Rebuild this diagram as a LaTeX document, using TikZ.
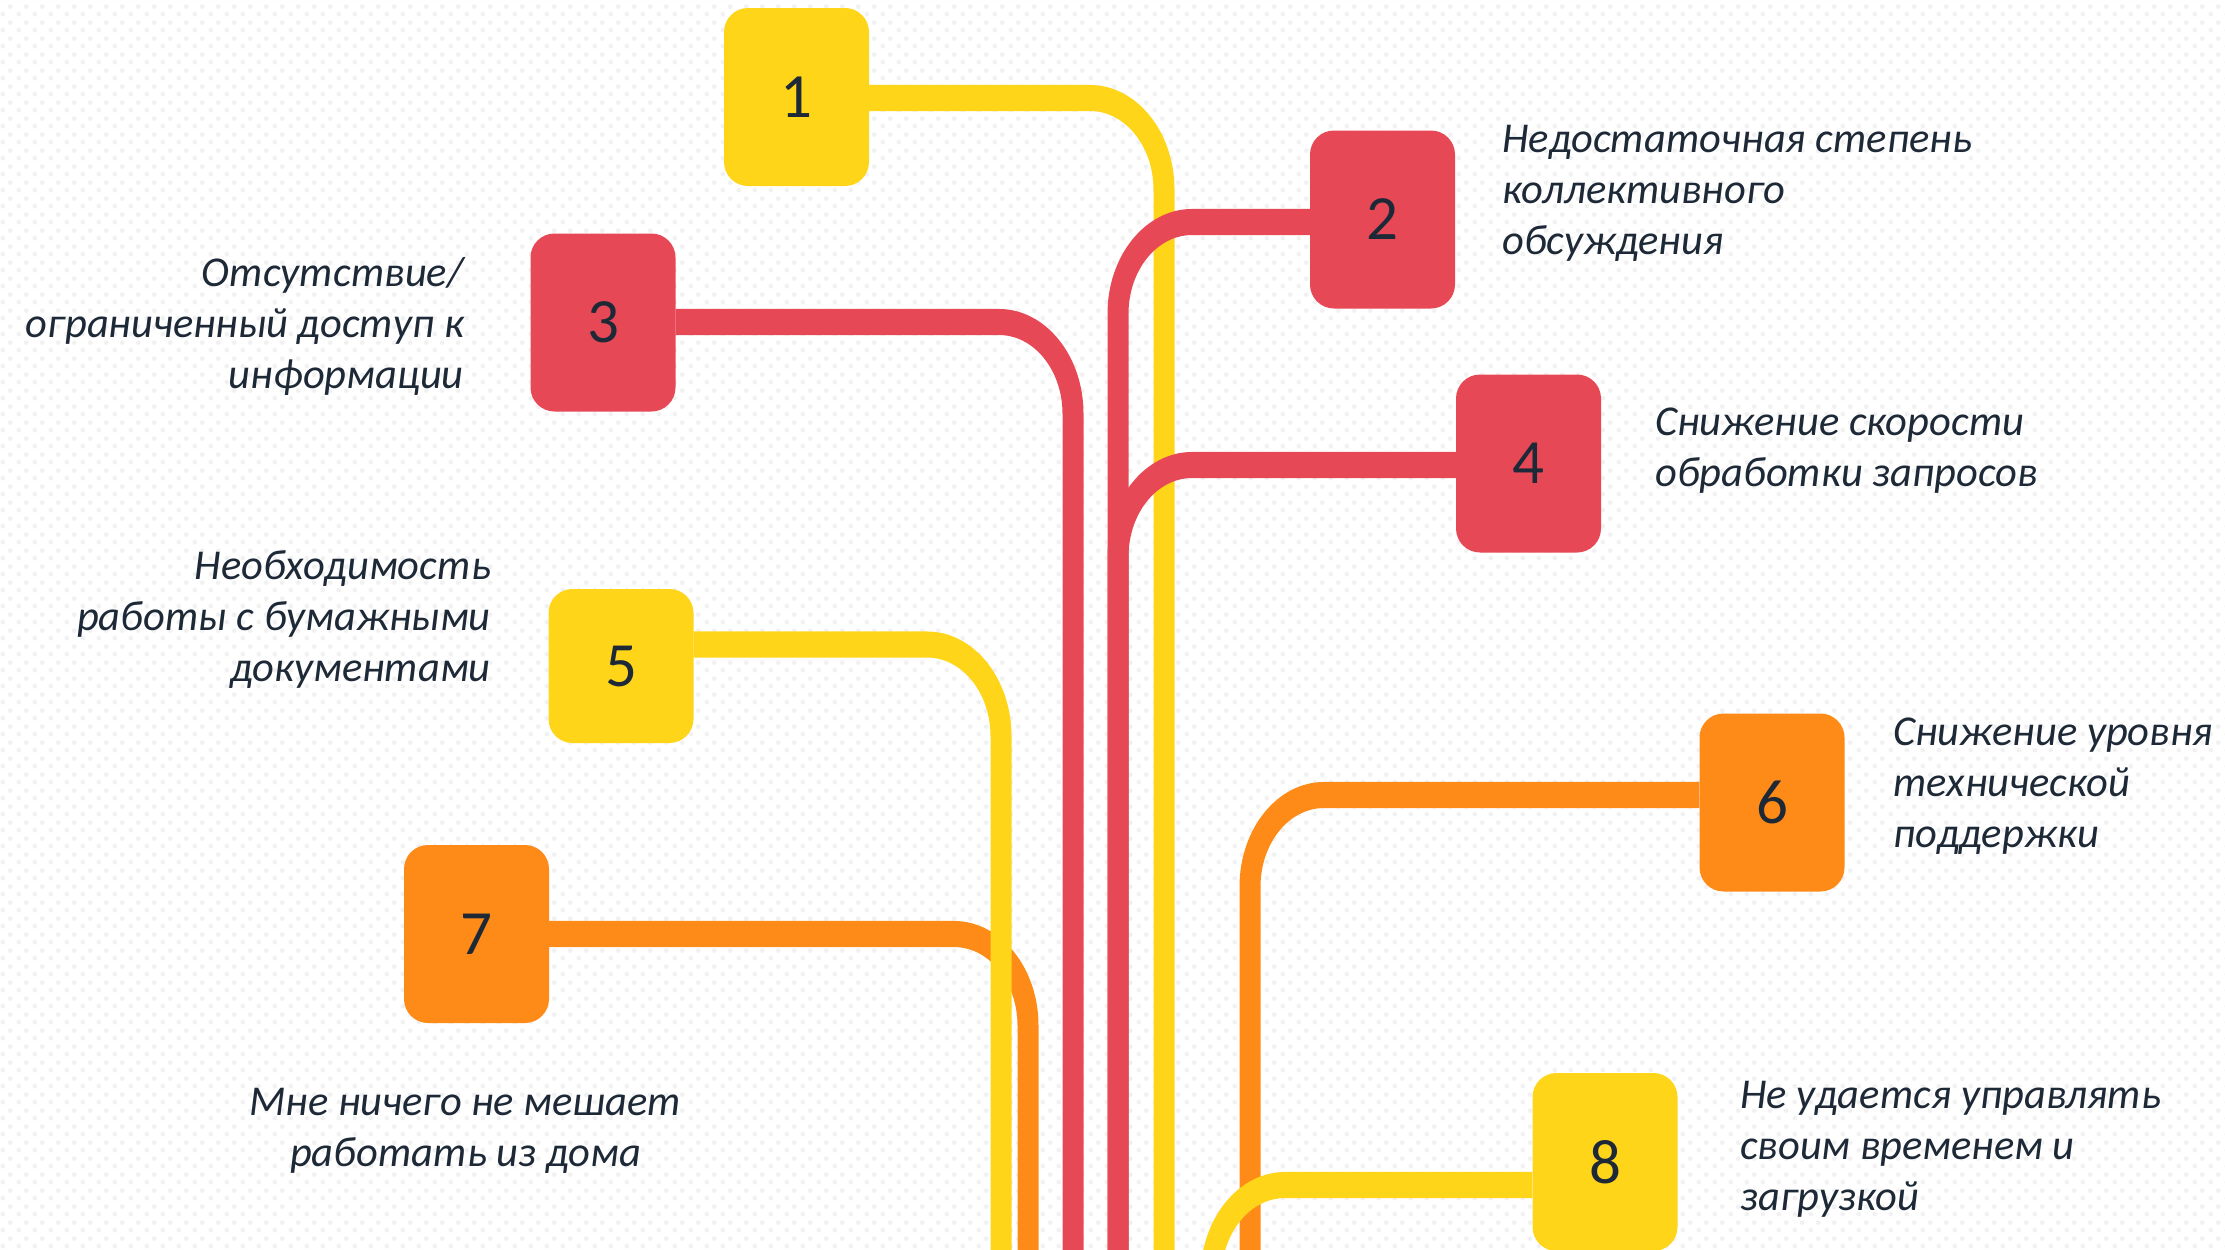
\documentclass[tikz,border=0pt]{standalone}
\usepackage{fontspec}
\setmainfont{Carlito}
\usetikzlibrary{patterns}
\definecolor{yel}{HTML}{FFD51A}
\definecolor{redc}{HTML}{E64856}
\definecolor{ora}{HTML}{FE8B18}
\definecolor{ink}{HTML}{1E2937}
\definecolor{dotgray}{HTML}{F1F1F1}
\pgfdeclarepatternformonly{bgdots}{\pgfqpoint{0pt}{0pt}}{\pgfqpoint{16pt}{16pt}}{\pgfqpoint{16pt}{16pt}}{%
  \pgfpathcircle{\pgfqpoint{4pt}{4pt}}{2.5pt}%
  \pgfpathcircle{\pgfqpoint{12pt}{12pt}}{2.5pt}%
  \pgfusepath{fill}%
}
\newcommand{\fl}{\rule{0pt}{35pt}}
\begin{document}
\begin{tikzpicture}[x=1pt,y=-1pt,
  box/.style={rectangle, rounded corners=24pt, minimum width=145pt, minimum height=178pt,
    inner sep=0pt, text=ink, font=\fontsize{63}{70}\selectfont},
  lbl/.style={inner sep=0pt, text=ink, font=\fontsize{42.5}{51}\selectfont\itshape},
  conn/.style={line width=21pt, rounded corners=74pt},
  % stretch a connector vertically about its corner row (gives thicker horizontals, oval bends)
  stretch/.style={transform canvas={yshift=#1pt, yscale=1.24}}]
\useasboundingbox (0,0) rectangle (2225,1250);
\fill[white] (0,0) rectangle (2225,1250);
\fill[pattern=bgdots, pattern color=dotgray] (0,0) rectangle (2225,1250);

% boxes
\node[box, fill=yel]  (n1) at (796.5,97) {1};
\node[box, fill=redc] (n2) at (1382.5,219.5) {2};
\node[box, fill=redc] (n3) at (603,322.5) {3};
\node[box, fill=redc] (n4) at (1528.5,463.5) {4};
\node[box, fill=yel, minimum height=154pt] (n5) at (621,666) {5};
\node[box, fill=ora]  (n6) at (1772,802.5) {6};
\node[box, fill=ora]  (n7) at (476.5,934) {7};
\node[box, fill=yel]  (n8) at (1605,1162) {8};

% labels
\node[lbl, anchor=north west, align=left]  (t2) at (1502,117) {\fl Недостаточная степень\\коллективного\\обсуждения};
\node[lbl, anchor=north east, align=right] (t3) at (464,251) {\fl Отсутствие/\\ограниченный доступ к\\информации};
\node[lbl, anchor=north west, align=left]  (t4) at (1655,400) {\fl Снижение скорости\\обработки запросов};
\node[lbl, anchor=north east, align=right] (t5) at (491,544) {\fl Необходимость\\работы с бумажными\\документами};
\node[lbl, anchor=north west, align=left]  (t6) at (1893,710) {\fl Снижение уровня\\технической\\поддержки};
\node[lbl, anchor=north, align=center]     (t7) at (465.5,1080) {\fl Мне ничего не мешает\\работать из дома};
\node[lbl, anchor=north west, align=left]  (t8) at (1740,1073) {\fl Не удается управлять\\своим временем и\\загрузкой};

% corner and end coordinates
\coordinate (k1) at (1164,98);   \coordinate (b1) at (1164,1265);
\coordinate (k2) at (1118,222);  \coordinate (b2) at (1118,1265);
\coordinate (k3) at (1073,322);  \coordinate (b3) at (1073,1265);
\coordinate (k4) at (1118,465);  \coordinate (b4) at (1118,1265);
\coordinate (k5) at (1001,644.5);\coordinate (b5) at (1001,1265);
\coordinate (k6) at (1250,795);  \coordinate (b6) at (1250,1265);
\coordinate (k7) at (1028,934);  \coordinate (b7) at (1028,1265);
\coordinate (k8) at (1211,1185); \coordinate (b8) at (1211,1265);

% connectors (drawing order sets overlaps); shift = 0.24 * row
\begin{scope}[stretch=23.52]  \draw[conn, yel]  (n1.east |- k1) -- (k1) -- (b1); \end{scope}
\begin{scope}[stretch=53.28]  \draw[conn, redc] (n2.west |- k2) -- (k2) -- (b2); \end{scope}
\begin{scope}[stretch=111.6]  \draw[conn, redc] (n4.west |- k4) -- (k4) -- (b4); \end{scope}
\begin{scope}[stretch=77.28]  \draw[conn, redc] (n3.east |- k3) -- (k3) -- (b3); \end{scope}
\begin{scope}[stretch=224.16] \draw[conn, ora]  (n7.east |- k7) -- (k7) -- (b7); \end{scope}
\begin{scope}[stretch=154.68] \draw[conn, yel]  (n5.east |- k5) -- (k5) -- (b5); \end{scope}
\begin{scope}[stretch=190.8]  \draw[conn, ora]  (n6.west |- k6) -- (k6) -- (b6); \end{scope}
\begin{scope}[stretch=284.4]  \draw[conn, yel]  (n8.west |- k8) -- (k8) -- (b8); \end{scope}
\end{tikzpicture}
\end{document}
